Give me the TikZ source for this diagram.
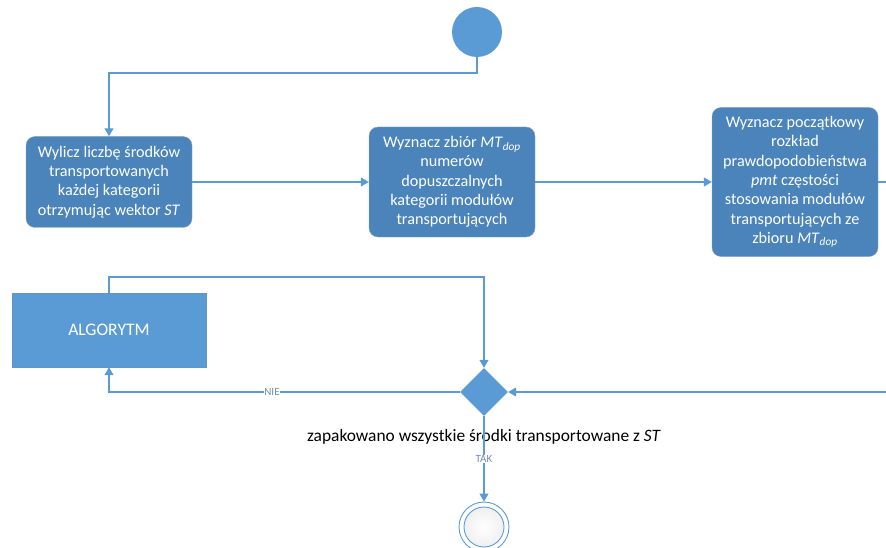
\documentclass[tikz,border=0pt]{standalone}
\usepackage{fontspec}
\setmainfont{Carlito}
\usetikzlibrary{shapes.geometric,arrows.meta,positioning}
\definecolor{lblue}{HTML}{5B9BD5}
\definecolor{dblue}{HTML}{4A84BA}
\definecolor{lblgray}{HTML}{6F8DB9}
\tikzset{
  actbox/.style={draw=dblue!80!black!60, line width=0.4pt, fill=dblue, rounded corners=9pt, text=white, align=center, font=\fontsize{16.2}{19.3}\selectfont, inner sep=0pt, minimum width=166pt},
  algbox/.style={draw=lblue!80!gray, line width=0.4pt, fill=lblue, text=white, font=\fontsize{17.6}{20}\selectfont, minimum width=194pt, minimum height=74pt, inner sep=0pt},
  conn/.style={draw=lblue, line width=1.1pt},
  arr/.style={conn, -{Triangle[length=8pt,width=9pt]}},
  lbl/.style={text=lblgray, font=\fontsize{11}{12}\selectfont, fill=white, inner sep=0.5pt},
}
\begin{document}
\begin{tikzpicture}[x=1pt,y=-1pt]
\useasboundingbox (0,0) rectangle (886,548);
\node[circle, fill=lblue, minimum size=50pt, inner sep=0pt] (start) at (477,32) {};
\node[actbox, minimum height=91pt] (b1) at (109,182) {Wylicz liczbę środków\\transportowanych\\każdej kategorii\\otrzymując wektor \textit{ST}};
\node[actbox, minimum height=110pt] (b2) at (452,182) {Wyznacz zbiór \textit{MT}\textsubscript{\textit{dop}}\\numerów\\dopuszczalnych\\kategorii modułów\\transportujących};
\node[actbox, minimum height=149pt] (b3) at (795,182) {Wyznacz początkowy\\rozkład\\prawdopodobieństwa\\\textit{pmt} częstości\\stosowania modułów\\transportujących ze\\zbioru \textit{MT}\textsubscript{\textit{dop}}};
\node[algbox] (alg) at (109,330) {ALGORYTM};
\node[diamond, fill=lblue, minimum width=48pt, minimum height=48pt, inner sep=0pt] (dec) at (484,392) {};
\node[font=\fontsize{17.4}{20}\selectfont, text=black] (declbl) at (484,437) {zapakowano wszystkie środki transportowane z \textit{ST}};
\node[circle, draw=lblue, line width=0.9pt, fill=white, minimum size=50pt, inner sep=0pt] (end) at (484,527) {};
\node[circle, draw=lblue, line width=0.9pt, inner color=white, outer color=gray!12, minimum size=40pt, inner sep=0pt] (endin) at (end.center) {};
\coordinate (rout) at (886,182);
\coordinate (rin) at (886,392);
% connectors
\draw[arr] (start.south) -- (start.south |- 0,73) -| (b1.north);
\draw[arr] (b1.east) -- (b2.west);
\draw[arr] (b2.east) -- (b3.west);
\draw[conn] (b3.east) -- (rout);
\draw[arr] (alg.north) -- (alg.north |- 0,277) -| (dec.north);
\draw[arr] (dec.west) -| (alg.south);
\node[lbl] (nie) at (272,392) {NIE};
\draw[arr] (rin) -- (dec.east);
\draw[arr] (dec.south) -- (end.north);
\node[lbl] (tak) at (484,459) {TAK};
\end{tikzpicture}
\end{document}
